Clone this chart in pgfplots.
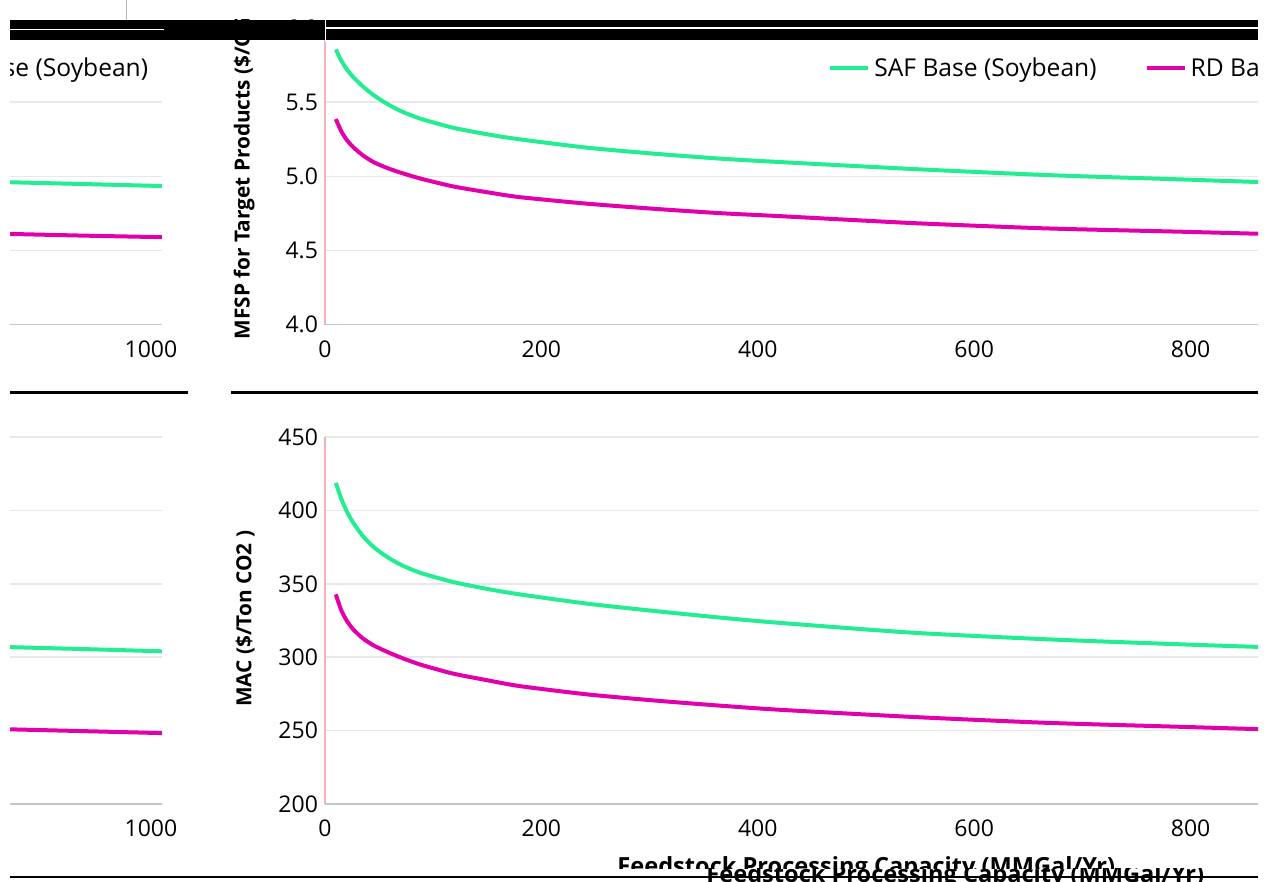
\documentclass[border=0pt]{standalone}
\usepackage{fontspec}
\setmainfont{Open Sans}
\usepackage{pgfplots}
\pgfplotsset{compat=1.18}
\usepackage{pgfplotstable}
\definecolor{safgreen}{RGB}{36,236,144}
\definecolor{rdmag}{RGB}{226,0,170}
\definecolor{gridgray}{RGB}{234,231,234}
\definecolor{axgray}{RGB}{200,196,200}
\definecolor{axpink}{RGB}{245,178,182}

\pgfplotstableread{
x saf rd
10 5.856 5.387
15 5.782 5.305
20 5.724 5.247
26 5.671 5.198
35 5.607 5.142
45 5.548 5.096
57 5.491 5.058
70 5.441 5.025
88 5.390 4.986
118 5.329 4.933
150 5.284 4.893
180 5.250 4.860
242 5.194 4.816
303 5.154 4.782
365 5.120 4.752
420 5.097 4.732
543 5.050 4.685
667 5.009 4.649
790 4.980 4.627
863 4.962 4.613
940 4.948 4.600
1010 4.935 4.590
}\mfsp

\pgfplotstableread{
x saf rd
10 418.7 342.8
15 408.0 332.0
20 399.5 325.0
26 391.7 319.0
35 382.5 312.8
45 375.0 308.0
57 368.5 303.8
70 363.0 299.8
88 357.5 295.0
118 351.3 288.9
150 346.5 284.3
180 342.8 280.3
242 336.5 274.7
303 331.6 270.6
365 327.0 267.0
420 323.4 264.2
543 316.7 259.3
667 312.2 255.3
790 308.8 252.6
863 307.0 251.0
940 305.5 249.6
1010 304.0 248.3
}\mac

\pgfplotsset{
  base/.style={
    scale only axis, width=546.4pt, xmin=0, xmax=1010,
    axis x line*=bottom, axis y line*=left,
    x axis line style={draw=axgray, line width=0.9pt},
    y axis line style={draw=axpink, line width=0.6pt},
    major tick length=0pt,
    xtick={0,200,400,600,800,1000},
    ymajorgrids, grid style={draw=gridgray, line width=0.8pt},
    tick label style={font=\fontsize{11.5}{13}\selectfont, text=black},
    /pgf/number format/assume math mode=true,
    /pgf/number format/1000 sep={},
    xticklabel style={yshift=-4.5pt},
    every axis plot/.append style={line width=2pt, no marks, smooth, tension=0.4},
  },
  topax/.style={base, height=148.2pt, ymin=4, ymax=6,
    ytick={4,4.5,5,5.5,6},
    yticklabel style={/pgf/number format/.cd, fixed, fixed zerofill, precision=1},
    ylabel={MFSP for Target Products (\$/GGE)},
    every axis y label/.style={at={(axis description cs:-0.064,-0.0506)}, anchor=south west, rotate=90, inner sep=0pt, font=\fontsize{10.4}{12}\selectfont\bfseries},
    legend columns=2,
    legend style={draw=none, fill=none, at={(axis description cs:0.997,0.93)}, anchor=north east,
      font=\fontsize{12.3}{14}\selectfont, /tikz/every even column/.append style={column sep=22pt}},
    legend image code/.code={\draw[line width=2pt] (0pt,0pt) -- (19pt,0pt);},
  },
  botax/.style={base, height=183.5pt, ymin=200, ymax=450,
    ytick={200,250,300,350,400,450},
    ylabel={MAC (\$/Ton CO2 )},
    every axis y label/.style={at={(axis description cs:-0.064,0.264)}, anchor=south west, rotate=90, inner sep=0pt, font=\fontsize{10.4}{12}\selectfont\bfseries},
  },
}

\begin{document}
\begin{tikzpicture}
\useasboundingbox (0,0) rectangle (635pt,-441pt);
\begin{scope}
\clip (5pt,-10pt) rectangle (629pt,-441pt);
% main panels
\begin{axis}[topax, at={(162.5pt,-162.3pt)}, anchor=south west]
\addplot[safgreen] table[x=x,y=saf]{\mfsp};
\addlegendentry{SAF Base (Soybean)}
\addplot[rdmag] table[x=x,y=rd]{\mfsp};
\addlegendentry{RD Base (Soybean)}
\end{axis}
\begin{axis}[botax, at={(162.5pt,-402pt)}, anchor=south west]
\addplot[safgreen] table[x=x,y=saf]{\mac};
\addplot[rdmag] table[x=x,y=rd]{\mac};
\end{axis}
% wrapped copies on the left
\begin{axis}[topax, at={(-465.5pt,-162.3pt)}, anchor=south west]
\addplot[safgreen] table[x=x,y=saf]{\mfsp};
\addlegendentry{SAF Base (Soybean)}
\addplot[rdmag] table[x=x,y=rd]{\mfsp};
\addlegendentry{RD Base (Soybean)}
\end{axis}
\begin{axis}[botax, at={(-465.5pt,-402pt)}, anchor=south west]
\addplot[safgreen] table[x=x,y=saf]{\mac};
\addplot[rdmag] table[x=x,y=rd]{\mac};
\end{axis}
\end{scope}
% glitch bands
\fill[black] (5pt,-10pt) rectangle (629pt,-20pt);
\fill[white] (5pt,-14.4pt) rectangle (82pt,-15pt);
\fill[white] (163pt,-13.7pt) rectangle (629pt,-14.5pt);
\fill[white] (162.3pt,-9pt) rectangle (162.8pt,-21pt);
\draw[gray!60, line width=0.5pt] (63pt,0pt) -- (63pt,-10pt);
\fill[black] (5pt,-195.3pt) rectangle (94pt,-196.8pt);
\fill[black] (115.5pt,-195.3pt) rectangle (629pt,-196.8pt);
% x label (two offset copies)
\begin{scope}
\clip (0pt,-380pt) rectangle (635pt,-434pt);
\node[anchor=base west, font=\fontsize{11.8}{13}\selectfont\bfseries, inner sep=0pt] at (308.5pt,-437pt) {Feedstock Processing Capacity (MMGal/Yr)};
\end{scope}
\begin{scope}
\clip (0pt,-434pt) rectangle (635pt,-441pt);
\node[anchor=base west, font=\fontsize{11.8}{13}\selectfont\bfseries, inner sep=0pt] at (353pt,-441pt) {Feedstock Processing Capacity (MMGal/Yr)};
\end{scope}
\draw[black, line width=0.7pt] (5pt,-438.5pt) -- (629pt,-438.5pt);
\end{tikzpicture}
\end{document}
